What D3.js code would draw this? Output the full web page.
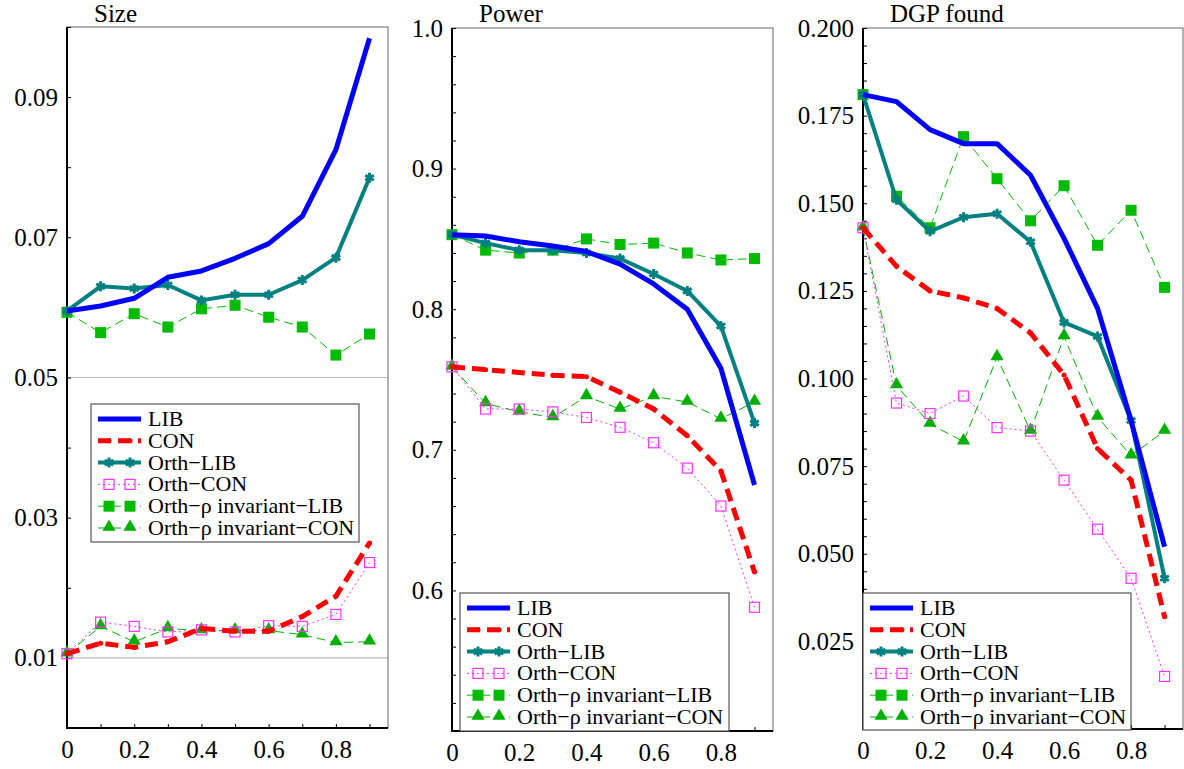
<!DOCTYPE html>
<html>
<head>
<meta charset="utf-8">
<script src="https://cdn.jsdelivr.net/npm/d3@7/dist/d3.min.js"></script>
<style>
  body { margin: 0; background: #fff; }
  svg { display: block; }
  svg text { font-family: "Liberation Serif", "Times New Roman", Times, "DejaVu Serif", serif; }
</style>
</head>
<body>
<svg id="chart" width="1184" height="769"></svg>
<script>
// x values (rho)
var rho = [0, 0.1, 0.2, 0.3, 0.4, 0.5, 0.6, 0.7, 0.8, 0.9];
var seriesNames = ["LIB", "CON", "Orth\u2212LIB", "Orth\u2212CON",
    "Orth\u2212\u03c1 invariant\u2212LIB", "Orth\u2212\u03c1 invariant\u2212CON"];
var panelTitles = ["Size", "Power", "DGP found"];
var xTickLabels = ["0", "0.2", "0.4", "0.6", "0.8"];

// Size
var sizeLIB = [0.0595, 0.0602, 0.0613, 0.0643, 0.0652, 0.0670, 0.0691, 0.0730, 0.0825, 0.0984];
var sizeCON = [0.0106, 0.0121, 0.0115, 0.0123, 0.0142, 0.0138, 0.0138, 0.0159, 0.0188, 0.0264];
var sizeOrthLIB = [0.0595, 0.0630, 0.0627, 0.0632, 0.0610, 0.0618, 0.0618, 0.0639, 0.0671, 0.0785];
var sizeOrthCON = [0.0106, 0.0151, 0.0145, 0.0137, 0.0140, 0.0137, 0.0146, 0.0145, 0.0162, 0.0236];
var sizeRhoLIB = [0.0593, 0.0564, 0.0591, 0.0572, 0.0598, 0.0603, 0.0586, 0.0572, 0.0532, 0.0562];
var sizeRhoCON = [0.0106, 0.0145, 0.0123, 0.0142, 0.0139, 0.0139, 0.0139, 0.0133, 0.0122, 0.0123];
var sizeTicks = [0.01, 0.03, 0.05, 0.07, 0.09];

// Power
var powerLIB = [0.853, 0.852, 0.848, 0.845, 0.841, 0.832, 0.818, 0.800, 0.758, 0.675];
var powerCON = [0.759, 0.757, 0.755, 0.753, 0.752, 0.741, 0.729, 0.710, 0.685, 0.613];
var powerOrthLIB = [0.853, 0.847, 0.842, 0.842, 0.840, 0.836, 0.825, 0.813, 0.788, 0.719];
var powerOrthCON = [0.759, 0.729, 0.729, 0.727, 0.723, 0.716, 0.705, 0.687, 0.660, 0.588];
var powerRhoLIB = [0.853, 0.842, 0.840, 0.842, 0.850, 0.846, 0.847, 0.840, 0.835, 0.836];
var powerRhoCON = [0.759, 0.733, 0.727, 0.723, 0.738, 0.729, 0.738, 0.734, 0.722, 0.734];
var powerTicks = [0.6, 0.7, 0.8, 0.9, 1.0];

// DGP found
var dgpLIB = [0.181, 0.179, 0.171, 0.167, 0.167, 0.158, 0.140, 0.120, 0.088, 0.052];
var dgpCON = [0.143, 0.132, 0.125, 0.123, 0.120, 0.113, 0.101, 0.080, 0.071, 0.032];
var dgpOrthLIB = [0.181, 0.151, 0.142, 0.146, 0.147, 0.139, 0.116, 0.112, 0.088, 0.043];
var dgpOrthCON = [0.143, 0.093, 0.090, 0.095, 0.086, 0.085, 0.071, 0.057, 0.043, 0.015];
var dgpRhoLIB = [0.181, 0.152, 0.143, 0.169, 0.157, 0.145, 0.155, 0.138, 0.148, 0.126];
var dgpRhoCON = [0.143, 0.098, 0.087, 0.082, 0.106, 0.085, 0.112, 0.089, 0.078, 0.085];
var dgpTicks = [0.025, 0.05, 0.075, 0.1, 0.125, 0.15, 0.175, 0.2];

var serif = "'Liberation Serif', 'Times New Roman', Times, 'DejaVu Serif', serif";

var styles = [
    { color: "#0000ff", width: 5, dash: null, marker: "none" },
    { color: "#ff0000", width: 5, dash: "13,7", marker: "dot" },
    { color: "#008080", width: 4, dash: null, marker: "star" },
    { color: "#ff33ff", width: 1, dash: "2,3", marker: "opensquare" },
    { color: "#00bb00", width: 1, dash: "9,5", marker: "square" },
    { color: "#00b000", width: 1, dash: "9,5", marker: "triangle" }
];

var panels = [
    { title: panelTitles[0], series: [sizeLIB, sizeCON, sizeOrthLIB, sizeOrthCON, sizeRhoLIB, sizeRhoCON],
      left: 67, right: 388, top: 27, bottom: 728, ydom: [0, 0.1], ticks: sizeTicks, fmt: ".2f",
      minor: 0.01, grid: [0.01, 0.05], legend: { x: 91, y: 404, w: 268, h: 138 } },
    { title: panelTitles[1], series: [powerLIB, powerCON, powerOrthLIB, powerOrthCON, powerRhoLIB, powerRhoCON],
      left: 452, right: 773, top: 28, bottom: 731, ydom: [0.5, 1.0], ticks: powerTicks, fmt: ".1f",
      minor: 0.02, grid: [], legend: { x: 460, y: 593, w: 269, h: 138 } },
    { title: panelTitles[2], series: [dgpLIB, dgpCON, dgpOrthLIB, dgpOrthCON, dgpRhoLIB, dgpRhoCON],
      left: 863, right: 1183, top: 28, bottom: 729, ydom: [0, 0.2], ticks: dgpTicks, fmt: ".3f",
      minor: 0.005, grid: [], legend: { x: 863, y: 593, w: 268, h: 137 } }
];

var svg = d3.select("#chart");

function drawMarker(g, type, x, y, color) {
    if (type == "dot") {
        g.append("circle").attr("cx", x).attr("cy", y).attr("r", 2.5).attr("fill", color);
    } else if (type == "star") {
        g.append("path").attr("transform", "translate(" + x + "," + y + ")")
            .attr("d", d3.symbol().type(d3.symbolAsterisk).size(70)())
            .attr("stroke", color).attr("stroke-width", 3).attr("fill", "none");
    } else if (type == "opensquare") {
        g.append("rect").attr("x", x - 5).attr("y", y - 5).attr("width", 10).attr("height", 10)
            .attr("fill", "none").attr("stroke", color).attr("stroke-width", 1.2);
    } else if (type == "square") {
        g.append("rect").attr("x", x - 5.5).attr("y", y - 5.5).attr("width", 11).attr("height", 11)
            .attr("fill", color);
    } else if (type == "triangle") {
        g.append("path").attr("transform", "translate(" + x + "," + (y - 1) + ")")
            .attr("d", d3.symbol().type(d3.symbolTriangle).size(75)())
            .attr("fill", color);
    }
}

panels.forEach(function (p) {
    var x = d3.scaleLinear().domain([0, 0.955]).range([p.left, p.right]);
    var y = d3.scaleLinear().domain(p.ydom).range([p.bottom, p.top]);
    var g = svg.append("g");

    // reference lines
    p.grid.forEach(function (v) {
        g.append("line").attr("x1", p.left).attr("x2", p.right)
            .attr("y1", y(v)).attr("y2", y(v))
            .attr("stroke", "#bbbbbb").attr("stroke-width", 1.2);
    });

    // frame
    g.append("rect").attr("x", p.left).attr("y", p.top)
        .attr("width", p.right - p.left).attr("height", p.bottom - p.top)
        .attr("fill", "none").attr("stroke", "#666").attr("stroke-width", 1);

    // y axis: ticks inward, labels only on majors
    var nMinor = Math.round((p.ydom[1] - p.ydom[0]) / p.minor);
    var minorVals = d3.range(nMinor + 1).map(function (i) { return p.ydom[0] + i * p.minor; });
    var yAxis = d3.axisLeft(y).tickValues(minorVals).tickSize(-4).tickFormat("");
    g.append("g").attr("transform", "translate(" + p.left + ",0)").call(yAxis)
        .call(function (a) {
            a.select(".domain").remove();
            a.selectAll("line").attr("stroke", "#000");
        });
    var yLabels = d3.axisLeft(y).tickValues(p.ticks).tickSize(0).tickPadding(9).tickFormat(d3.format(p.fmt));
    g.append("g").attr("transform", "translate(" + p.left + ",0)").call(yLabels)
        .attr("font-family", serif).attr("font-size", 25)
        .call(function (a) {
            a.select(".domain").remove();
            a.selectAll("text").attr("fill", "#000");
        });

    // x axis
    var xAxis = d3.axisBottom(x).tickValues(rho).tickSize(-4).tickFormat("");
    g.append("g").attr("transform", "translate(0," + p.bottom + ")").call(xAxis)
        .call(function (a) {
            a.select(".domain").remove();
            a.selectAll("line").attr("stroke", "#000");
        });
    var xLabels = d3.axisBottom(x).tickValues(xTickLabels.map(Number)).tickSize(0).tickPadding(12)
        .tickFormat(function (d, i) { return xTickLabels[i]; });
    g.append("g").attr("transform", "translate(0," + p.bottom + ")").call(xLabels)
        .attr("font-family", serif).attr("font-size", 25)
        .call(function (a) {
            a.select(".domain").remove();
            a.selectAll("text").attr("fill", "#000");
        });

    // dark left and bottom spines
    g.append("line").attr("x1", p.left).attr("x2", p.left).attr("y1", p.top).attr("y2", p.bottom + 1)
        .attr("stroke", "#000").attr("stroke-width", 2);
    g.append("line").attr("x1", p.left - 1).attr("x2", p.right).attr("y1", p.bottom).attr("y2", p.bottom)
        .attr("stroke", "#000").attr("stroke-width", 2);

    // title
    g.append("text").attr("x", p.left + 27).attr("y", 22)
        .attr("font-family", serif).attr("font-size", 25).text(p.title);

    // series, drawn back to front
    var order = [5, 4, 3, 2, 1, 0];
    order.forEach(function (k) {
        var s = styles[k];
        var vals = p.series[k];
        var line = d3.line()
            .x(function (d, i) { return x(rho[i]); })
            .y(function (d) { return y(d); });
        g.append("path").datum(vals)
            .attr("d", line)
            .attr("fill", "none")
            .attr("stroke", s.color)
            .attr("stroke-width", s.width)
            .attr("stroke-dasharray", s.dash)
            .attr("stroke-linejoin", "round");
        vals.forEach(function (v, i) {
            drawMarker(g, s.marker, x(rho[i]), y(v), s.color);
        });
    });

    // legend
    var L = p.legend;
    var lg = svg.append("g");
    lg.append("rect").attr("x", L.x).attr("y", L.y).attr("width", L.w).attr("height", L.h)
        .attr("fill", "#fff").attr("stroke", "#555").attr("stroke-width", 1.2);
    seriesNames.forEach(function (name, k) {
        var s = styles[k];
        var ry = L.y + 15 + k * 21.8;
        var x0 = L.x + 7, x1 = L.x + 50;
        lg.append("line").attr("x1", x0).attr("x2", x1).attr("y1", ry).attr("y2", ry)
            .attr("stroke", s.color).attr("stroke-width", s.width)
            .attr("stroke-dasharray", s.dash);
        if (s.marker != "none") {
            drawMarker(lg, s.marker, x0 + 11, ry, s.color);
            drawMarker(lg, s.marker, x0 + 32, ry, s.color);
        }
        lg.append("text").attr("x", L.x + 57).attr("y", ry + 7)
            .attr("font-family", serif).attr("font-size", 22).text(name);
    });
});
</script>
</body>
</html>
